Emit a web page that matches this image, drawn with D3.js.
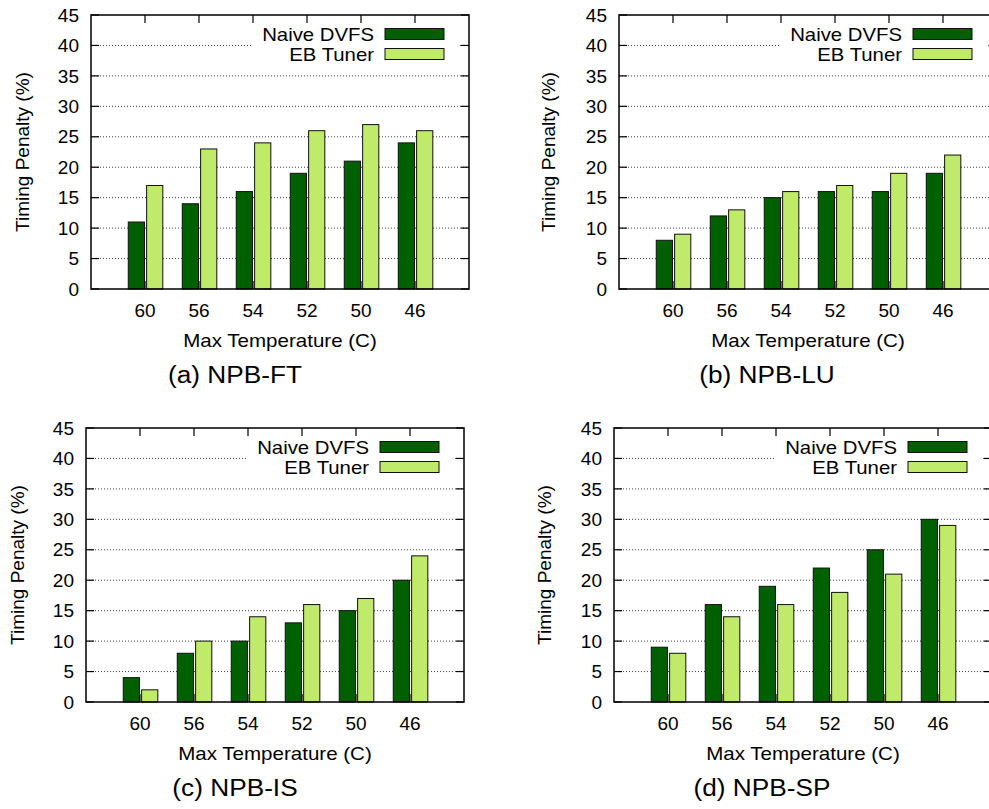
<!DOCTYPE html>
<html>
<head>
<meta charset="utf-8">
<script src="https://cdn.jsdelivr.net/npm/d3@7"></script>
<style>
  body { margin: 0; background: #fff; }
  svg { display: block; font-family: "Liberation Sans", Arial, sans-serif; }
</style>
</head>
<body>
<svg id="chart" width="989" height="809"></svg>
<script>
// данные
const temps = ["60", "56", "54", "52", "50", "46"];
const yTicks = [0, 5, 10, 15, 20, 25, 30, 35, 40, 45];
const seriesNames = ["Naive DVFS", "EB Tuner"];

const naiveFT = [11, 14, 16, 19, 21, 24];
const tunerFT = [17, 23, 24, 26, 27, 26];
const naiveLU = [8, 12, 15, 16, 16, 19];
const tunerLU = [9, 13, 16, 17, 19, 22];
const naiveIS = [4, 8, 10, 13, 15, 20];
const tunerIS = [2, 10, 14, 16, 17, 24];
const naiveSP = [9, 16, 19, 22, 25, 30];
const tunerSP = [8, 14, 16, 18, 21, 29];

const panelTitles = ["(a) NPB-FT", "(b) NPB-LU", "(c) NPB-IS", "(d) NPB-SP"];

const darkColor = "#006000";
const lightColor = "#c0ea6a";

const svg = d3.select("svg#chart");

// размеры области графика
const attr_area = { width: 378, height: 274, tick: 8 };

const panels = [
    { left: 91,  top: 15,  titleX: 235, yLabelX: 22,  naive: naiveFT, tuner: tunerFT, title: panelTitles[0] },
    { left: 619, top: 15,  titleX: 767, yLabelX: 548, naive: naiveLU, tuner: tunerLU, title: panelTitles[1] },
    { left: 86,  top: 428, titleX: 235, yLabelX: 17,  naive: naiveIS, tuner: tunerIS, title: panelTitles[2] },
    { left: 614, top: 428, titleX: 762, yLabelX: 544, naive: naiveSP, tuner: tunerSP, title: panelTitles[3] },
];

panels.forEach(p => drawPanel(svg, p));

// растянуть текст по горизонтали
function stretch(sel, k) {
    sel.each(function() {
        const len = this.getComputedTextLength();
        d3.select(this)
            .attr("textLength", len * k)
            .attr("lengthAdjust", "spacingAndGlyphs");
    });
}

function drawPanel(svg, p) {
    const w = attr_area.width, h = attr_area.height, t = attr_area.tick;
    const g = svg.append("g").attr("transform", `translate(${p.left},${p.top})`);

    const scX = d3.scalePoint().domain(temps).range([0, w]).padding(1);
    const step = scX.step();
    const scY = d3.scaleLinear().domain([0, 45]).range([h, 0]);

    // сетка
    g.selectAll(".grid")
        .data(yTicks.filter(v => v > 0 && v < 45))
        .enter()
        .append("line")
        .attr("x1", 0).attr("x2", w)
        .attr("y1", d => scY(d)).attr("y2", d => scY(d))
        .style("stroke", "#444")
        .style("stroke-width", 1)
        .style("stroke-dasharray", "1,2");

    // белая подложка легенды
    g.append("rect")
        .attr("x", 162).attr("y", 1)
        .attr("width", 205).attr("height", 50)
        .style("fill", "#fff");

    // засечки внутрь
    const tickG = g.append("g").style("stroke", "#000").style("stroke-width", 1.2);
    yTicks.forEach(v => {
        tickG.append("line").attr("x1", 0).attr("x2", t).attr("y1", scY(v)).attr("y2", scY(v));
        tickG.append("line").attr("x1", w - t).attr("x2", w).attr("y1", scY(v)).attr("y2", scY(v));
    });
    temps.forEach(c => {
        tickG.append("line").attr("x1", scX(c)).attr("x2", scX(c)).attr("y1", 0).attr("y2", t);
        tickG.append("line").attr("x1", scX(c)).attr("x2", scX(c)).attr("y1", h).attr("y2", h - t);
    });

    // столбцы
    const rows = temps.map((c, i) => ({ c: c, naive: p.naive[i], tuner: p.tuner[i] }));

    g.selectAll(".bar-naive")
        .data(rows)
        .enter()
        .append("rect")
        .attr("class", "bar-naive")
        .attr("x", d => scX(d.c) - 0.31 * step)
        .attr("y", d => scY(d.naive))
        .attr("width", 0.30 * step)
        .attr("height", d => h - scY(d.naive))
        .style("fill", darkColor)
        .style("stroke", "#111")
        .style("stroke-width", 1);

    g.selectAll(".bar-tuner")
        .data(rows)
        .enter()
        .append("rect")
        .attr("class", "bar-tuner")
        .attr("x", d => scX(d.c) + 0.03 * step)
        .attr("y", d => scY(d.tuner))
        .attr("width", 0.30 * step)
        .attr("height", d => h - scY(d.tuner))
        .style("fill", lightColor)
        .style("stroke", "#111")
        .style("stroke-width", 1);

    // рамка
    g.append("rect")
        .attr("width", w).attr("height", h)
        .style("fill", "none")
        .style("stroke", "#000")
        .style("stroke-width", 1.5);

    // подписи оси Y
    g.selectAll(".ylab")
        .data(yTicks)
        .enter()
        .append("text")
        .attr("x", -12)
        .attr("y", d => scY(d))
        .attr("dy", "0.35em")
        .attr("text-anchor", "end")
        .style("font-size", "19px")
        .text(d => d);

    // подписи оси X
    g.selectAll(".xlab")
        .data(temps)
        .enter()
        .append("text")
        .attr("x", d => scX(d))
        .attr("y", h + 28)
        .attr("text-anchor", "middle")
        .style("font-size", "19px")
        .text(d => d);

    g.append("text")
        .attr("x", w / 2)
        .attr("y", h + 58)
        .attr("text-anchor", "middle")
        .style("font-size", "19px")
        .text("Max Temperature (C)")
        .call(stretch, 1.08);

    g.append("text")
        .attr("transform", `translate(${p.yLabelX - p.left},${h / 2}) rotate(-90)`)
        .attr("dy", "0.35em")
        .attr("text-anchor", "middle")
        .style("font-size", "19px")
        .text("Timing Penalty (%)");

    // заголовок панели
    g.append("text")
        .attr("x", p.titleX - p.left)
        .attr("y", h + 94)
        .attr("text-anchor", "middle")
        .style("font-size", "23px")
        .text(p.title)
        .call(stretch, 1.14);

    // легенда
    const colors = [darkColor, lightColor];
    seriesNames.forEach((name, i) => {
        const cy = 19 + i * 20;
        g.append("text")
            .attr("x", 283)
            .attr("y", cy)
            .attr("dy", "0.35em")
            .attr("text-anchor", "end")
            .style("font-size", "19px")
            .text(name)
            .call(stretch, 1.07);
        g.append("rect")
            .attr("x", 294).attr("y", cy - 5.5)
            .attr("width", 59).attr("height", 11)
            .style("fill", colors[i])
            .style("stroke", "#111")
            .style("stroke-width", 1);
    });
}
</script>
</body>
</html>
